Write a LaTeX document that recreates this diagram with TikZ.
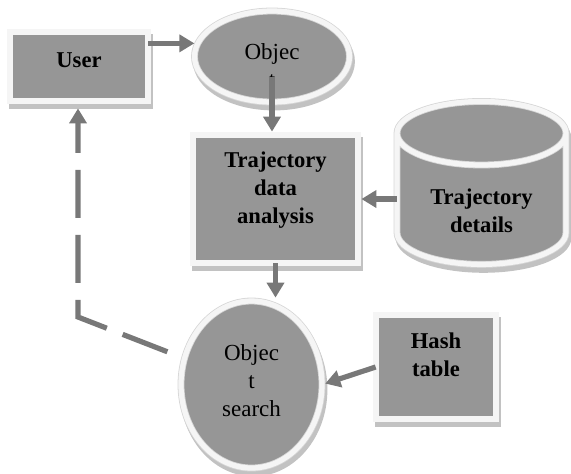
\documentclass[tikz,border=0pt]{standalone}
\usepackage{fontspec}
\setmainfont{Liberation Serif}
\usetikzlibrary{arrows.meta, positioning, shapes.geometric, shadows}

\tikzset{
  block/.style={rectangle, fill=black!41, draw=black!16, double=black!4, double distance=2.6pt,
    line width=0.4pt, inner sep=0pt, align=center,
    drop shadow={shadow xshift=1pt, shadow yshift=-2.5pt, fill=black!24, draw=black!24,
      line width=3.4pt, opacity=1},
    font=\fontsize{11.3}{14}\selectfont\bfseries},
  oval/.style={block, ellipse, font=\fontsize{11.5}{14}\selectfont},
  store/.style={block, cylinder, shape border rotate=90, aspect=0.62},
  arr/.style={draw=black!53, line width=2.6pt, -{Triangle[length=7.5pt,width=8.5pt]},
    shorten >=1.5pt},
  backarr/.style={arr, dash pattern=on 24pt off 8.5pt},
}

\begin{document}
\begin{tikzpicture}[x=0.5pt, y=-0.5pt]
  \useasboundingbox (0,0) rectangle (571,473);

  % nodes
  \node[block, minimum width=69pt, minimum height=34.5pt, text depth=6pt] (user) at (79,66.5) {User};
  \node[oval, minimum width=77.5pt, minimum height=45.5pt, text height=31pt] (obj) at (272,56.5) {Objec\\t};
  \node[block, minimum width=82.5pt, minimum height=64pt, text depth=11.4pt] (tda) at (275.5,199)
    {Trajectory\\data\\analysis};
  \node[store, minimum width=84.5pt, minimum height=80pt, text height=33.5pt] (tdet) at (481.5,199)
    {Trajectory\\details};
  \node[oval, minimum width=70.5pt, minimum height=83.5pt, text depth=4pt] (osearch) at (251.5,384.5)
    {Objec\\t\\search};
  \node[block, minimum width=60pt, minimum height=52pt, text depth=12pt] (hash) at (436,367)
    {Hash\\table};
  \coordinate (bend) at (78,317);

  % connectors
  \draw[arr] (user.east |- obj.170) -- (obj.170);
  \draw[arr] ([yshift=-10pt]obj.center) -- (obj.center |- tda.north);
  \draw[arr] (tdet.west |- tda.east) -- (tda.east);
  \draw[arr] (tda.south) -- (tda.south |- osearch.north);
  \draw[arr] (hash.west) -- (osearch.east);
  \draw[backarr, shorten <=9pt, shorten >=3.5pt] (osearch) -- (bend) -- (user.south -| bend);
\end{tikzpicture}
\end{document}
